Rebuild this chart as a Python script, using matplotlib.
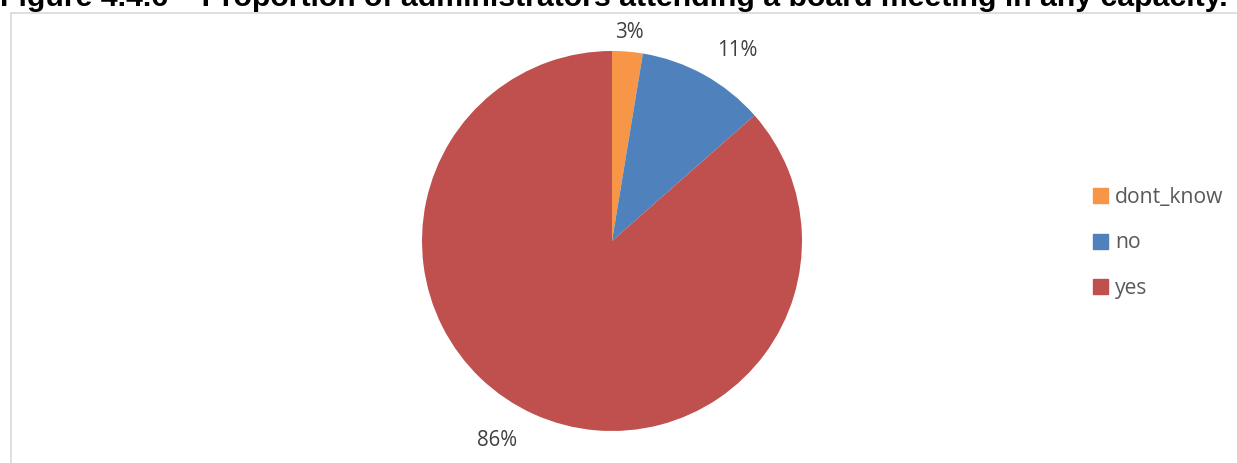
import numpy as np
import matplotlib.pyplot as plt
from matplotlib.lines import Line2D

title = "Figure 4.4.6 \u2013 Proportion of administrators attending a board meeting in any capacity."
categories = ['dont_know', 'no', 'yes']
shares = [2.6, 10.9, 86.5]
pct_labels = ['3%', '11%', '86%']
colors = ['#F79646', '#4F81BD', '#C0504D']

W, H = 1237, 463
fig = plt.figure(figsize=(W / 100, H / 100), dpi=100)
fig.patch.set_facecolor('white')

# axes in pixel units (y up)
ax = fig.add_axes([0, 0, 1, 1])
cx, cy, R = 612, H - 241, 190

wedges, texts = ax.pie(shares, colors=colors, startangle=90, counterclock=False,
                       center=(cx, cy), radius=R, labels=pct_labels, frame=True,
                       textprops=dict(fontsize=14.8, color='#404040', family='Open Sans'))
ax.set_xlim(0, W)
ax.set_ylim(0, H)
ax.set_aspect('equal')
ax.axis('off')

# excel-like "best fit" label placement
label_dist = [1.10, 1.20, 1.21]
angle_shift = [0, -4.4, -5.7]
for w, t, d, s in zip(wedges, texts, label_dist, angle_shift):
    a = np.deg2rad((w.theta1 + w.theta2) / 2 + s)
    t.set_position((cx + R * d * np.cos(a), cy + R * d * np.sin(a)))
    t.set_ha('center')
    t.set_va('center')

# chart border (grey frame, top and left visible)
ax.add_line(Line2D([10.5, 10.5], [0, H - 12.5], color='#D9D9D9', lw=1.2))
ax.add_line(Line2D([10.5, W], [H - 12.5, H - 12.5], color='#D9D9D9', lw=1.2))

# title, cut off at top like the source
fig.text(0.5 / W, (H - 6.5) / H, title, fontsize=21.8, fontweight='bold',
         family='Liberation Sans', ha='left', va='baseline', color='black')

# legend
handles = [plt.Rectangle((0, 0), 1, 1, color=c) for c in colors]
leg = ax.legend(handles, categories, loc='center left',
                bbox_to_anchor=(1074 / W, (H - 243) / H), bbox_transform=fig.transFigure,
                frameon=False, handlelength=0.7, handleheight=0.7,
                handletextpad=0.35, labelspacing=1.15,
                prop=dict(family='Open Sans', size=15.2))
for t in leg.get_texts():
    t.set_color('#595959')

fig.savefig('out.png', dpi=100, facecolor='white')
